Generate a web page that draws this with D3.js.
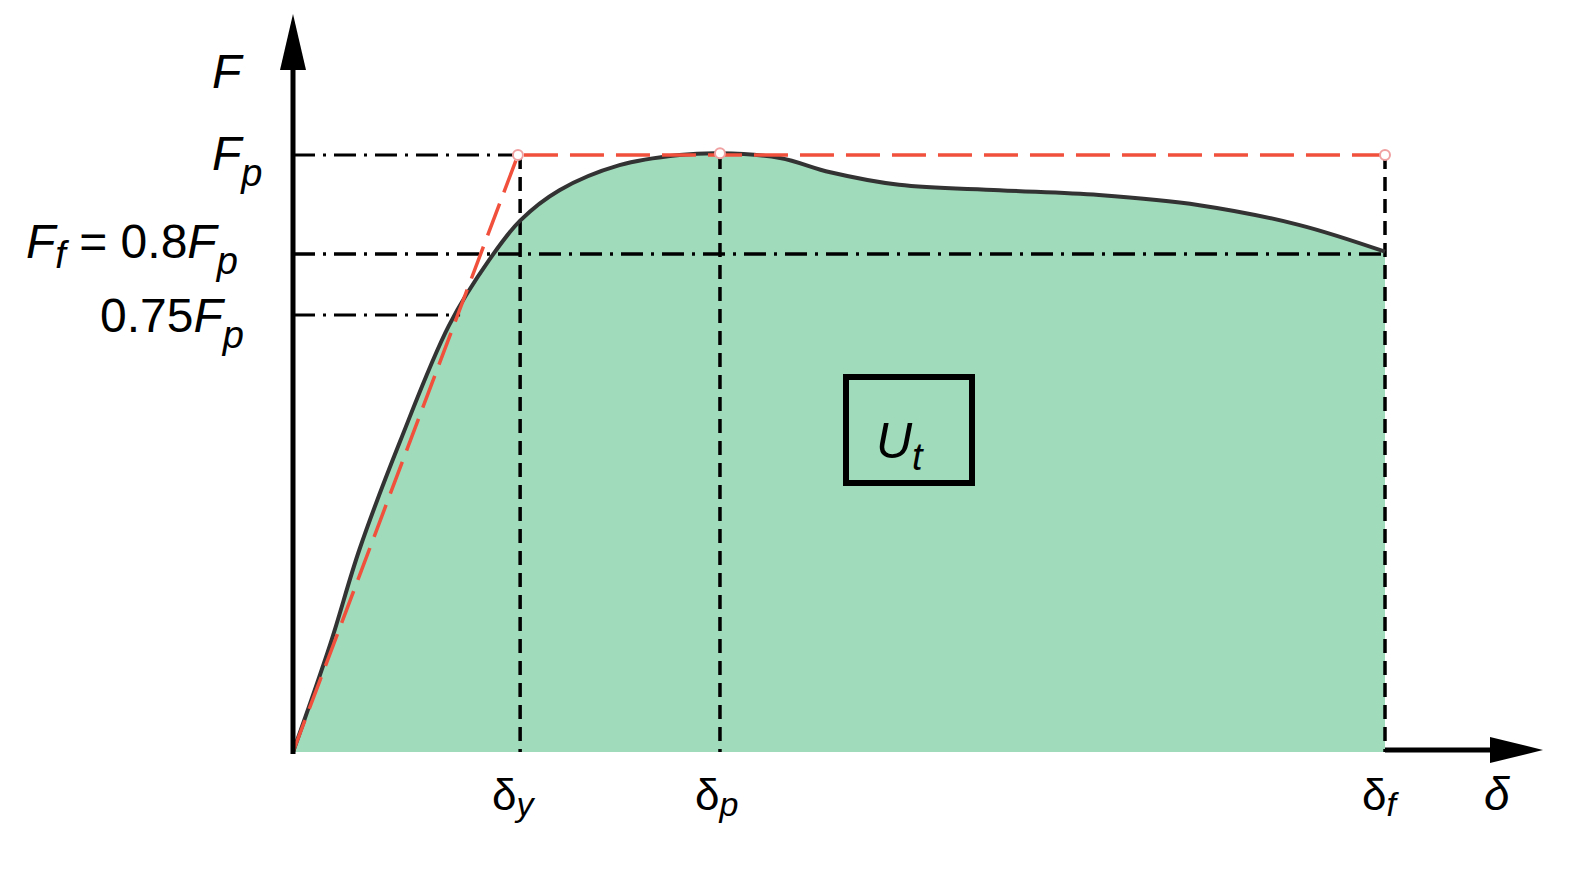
<!DOCTYPE html>
<html><head><meta charset="utf-8">
<script src="https://cdn.jsdelivr.net/npm/d3@7"></script>
<style>body{margin:0;background:#fff}</style></head>
<body><svg id="c" width="1586" height="872"></svg>
<script>
// data (δ in % of δf, F as fraction of Fp)
const curveX = [0, 3.4, 6.1, 9.8, 14.3, 18.0, 20.8, 24.4, 29.9, 35.4, 39.1, 44.6, 49.2, 55.5, 64.7, 73.8, 83.0, 92.1, 100];
const curveY = [0, 0.180, 0.340, 0.520, 0.715, 0.825, 0.890, 0.941, 0.983, 1.0, 1.003, 0.995, 0.971, 0.950, 0.941, 0.933, 0.916, 0.883, 0.838];
const bilinX = [0, 20.6, 100];
const bilinY = [0, 1, 1];
const dy = 20.8, dp = 39.1, df = 100;
const Fp = 1, Ff = 0.834, F75 = 0.732;

const svg = d3.select("#c");
const x = d3.scaleLinear().domain([0, 100]).range([293, 1385]);
const y = d3.scaleLinear().domain([0, 1]).range([752, 155]);
const pts = curveX.map((v,i)=>[v,curveY[i]]);
const line = d3.line().x(d=>x(d[0])).y(d=>y(d[1])).curve(d3.curveCatmullRom);
const area = d3.area().x(d=>x(d[0])).y0(y(0)).y1(d=>y(d[1])).curve(d3.curveCatmullRom);
svg.append("path").datum(pts).attr("d",area).attr("fill","#a0dcbc");

const dashdot = "22,8,3,8";
svg.append("line").attr("x1",x(0)).attr("x2",x(bilinX[1])).attr("y1",y(Fp)).attr("y2",y(Fp)).attr("stroke","#000").attr("stroke-width",3).attr("stroke-dasharray",dashdot);
svg.append("line").attr("x1",x(0)).attr("x2",x(df)).attr("y1",y(Ff)).attr("y2",y(Ff)).attr("stroke","#000").attr("stroke-width",3.5).attr("stroke-dasharray",dashdot);
svg.append("line").attr("x1",x(0)).attr("x2",x(15.3)).attr("y1",y(F75)).attr("y2",y(F75)).attr("stroke","#000").attr("stroke-width",3).attr("stroke-dasharray",dashdot);
[dy,dp,df].forEach(v=>svg.append("line").attr("x1",x(v)).attr("x2",x(v)).attr("y1",y(Fp)).attr("y2",y(0)).attr("stroke","#000").attr("stroke-width",3.5).attr("stroke-dasharray","14,8"));

svg.append("path").datum(pts).attr("d",line).attr("fill","none").attr("stroke","#333").attr("stroke-width",4);
const bl = bilinX.map((v,i)=>[v,bilinY[i]]);
svg.append("path").datum(bl).attr("d",d3.line().x(d=>x(d[0])).y(d=>y(d[1]))).attr("fill","none").attr("stroke","#f0503c").attr("stroke-width",3.5).attr("stroke-dasharray","34,12");
svg.selectAll(".pt").data([bl[1],[dp,1.003],bl[2]]).enter().append("circle").attr("cx",d=>x(d[0])).attr("cy",d=>y(d[1])).attr("r",5).attr("fill","#fff").attr("stroke","#f0a0a0").attr("stroke-width",2);

svg.append("line").attr("x1",293).attr("x2",293).attr("y1",754).attr("y2",50).attr("stroke","#000").attr("stroke-width",5);
svg.append("path").attr("d","M293,14 L280,70 L306,70 Z").attr("fill","#000");
svg.append("line").attr("x1",x(df)).attr("x2",1500).attr("y1",750).attr("y2",750).attr("stroke","#000").attr("stroke-width",5);
svg.append("path").attr("d","M1543,750 L1490,737 L1490,763 Z").attr("fill","#000");

svg.append("rect").attr("x",846).attr("y",377).attr("width",126).attr("height",106).attr("fill","none").attr("stroke","#000").attr("stroke-width",6);
const ff = "Liberation Sans, Arial, sans-serif";
function lab(xp,yp,main,anchor,size){
  const t = svg.append("text").attr("x",xp).attr("y",yp).attr("font-family",ff).attr("font-size",size).attr("text-anchor",anchor||"start");
  main.forEach(m=>{ t.append("tspan").attr("font-style",m[1]?"italic":"normal").attr("dy",m[2]||0).attr("font-size",m[3]||size).text(m[0]); });
}
lab(876,458,[["U",1],["t",1,12,38]],null,50);
lab(212,88,[["F",1]],null,48);
lab(212,170,[["F",1],["p",1,16,38]],null,48);
lab(26,258,[["F",1],["f",1,10,38],[" = 0.8",0,-10],["F",1],["p",1,16,38]],null,48);
lab(100,332,[["0.75",0],["F",1],["p",1,16,38]],null,48);
lab(492,810,[["δ",0],["y",1,6,34]],null,44);
lab(695,810,[["δ",0],["p",1,6,34]],null,44);
lab(1362,810,[["δ",0],["f",1,6,34]],null,44);
lab(1484,810,[["δ",1]],null,46);
</script></body></html>
